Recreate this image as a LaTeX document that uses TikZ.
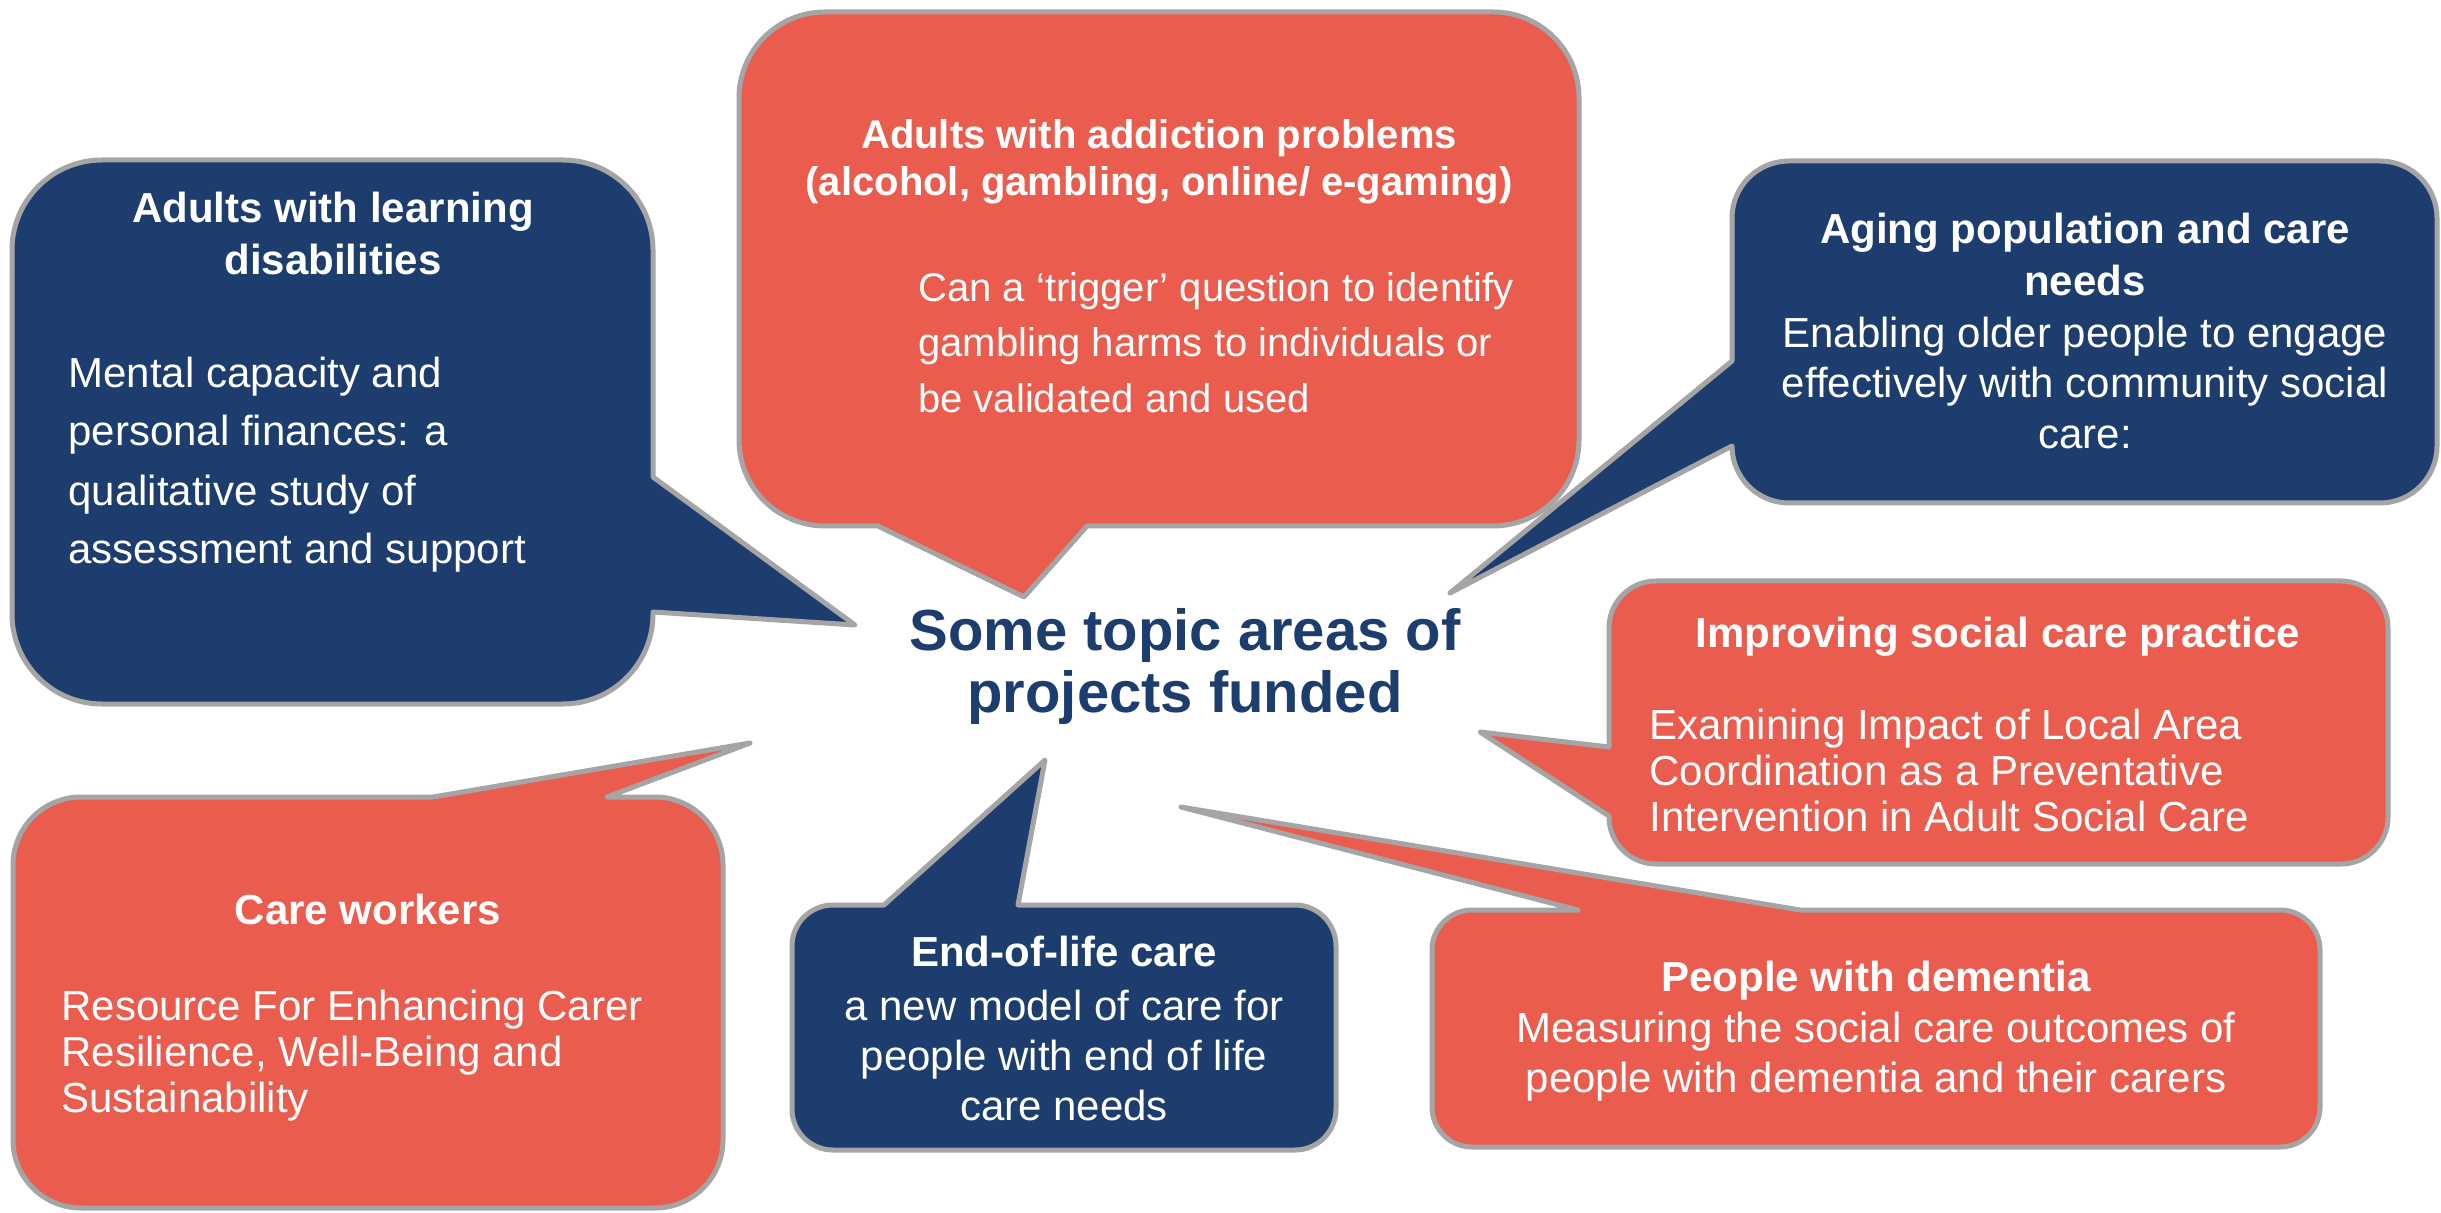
\documentclass[tikz,border=0pt]{standalone}
\usepackage{fontspec}
\setmainfont{Liberation Sans}
\definecolor{navy}{HTML}{1C3D6E}
\definecolor{coral}{HTML}{E95C4E}
\definecolor{rim}{HTML}{A5A5A5}
\tikzset{
  bubble/.style={draw=rim, line width=2.5pt, line join=round},
  bluebubble/.style={bubble, fill=navy},
  redbubble/.style={bubble, fill=coral},
  ttl/.style={font=\bfseries\fontsize{21}{25}\selectfont, text=white, inner sep=0pt, anchor=base},
  ttlc/.style={font=\bfseries\fontsize{20}{24}\selectfont, text=white, inner sep=0pt, anchor=base},
  bdyc/.style={font=\fontsize{21}{25}\selectfont, text=white, inner sep=0pt, anchor=base},
  bdyl/.style={font=\fontsize{21}{25}\selectfont, text=white, inner sep=0pt, anchor=base west},
  bdys/.style={font=\fontsize{20}{24}\selectfont, text=white, inner sep=0pt, anchor=base west},
  hub/.style={font=\bfseries\fontsize{29}{34}\selectfont, text=navy, inner sep=0pt, anchor=base}
}
\begin{document}
\begin{tikzpicture}[x=0.5pt,y=-0.5pt]
\useasboundingbox (0,0) rectangle (2441,1213);
\fill[white] (0,0) rectangle (2441,1213);

% Box 1: learning disabilities (blue), tail on right edge
\draw[bluebubble] (102,160) -- (563,160) arc[start angle=270,end angle=360,radius=90]
  -- (653,477) -- (855,625) -- (653,612) -- (653,614) arc[start angle=0,end angle=90,radius=90]
  -- (102,704) arc[start angle=90,end angle=180,radius=90]
  -- (12,250) arc[start angle=180,end angle=270,radius=90] -- cycle;

% Box 2: addiction (red), tail on bottom edge
\draw[redbubble] (825,12) -- (1493,12) arc[start angle=270,end angle=360,radius=86]
  -- (1579,440) arc[start angle=0,end angle=90,radius=86]
  -- (1087,526) -- (1024,597) -- (878,526)
  -- (825,526) arc[start angle=90,end angle=180,radius=86]
  -- (739,98) arc[start angle=180,end angle=270,radius=86] -- cycle;

% Box 3: aging population (blue), tail on left edge
\draw[bluebubble] (1789,161) -- (2380,161) arc[start angle=270,end angle=360,radius=57]
  -- (2437,446) arc[start angle=0,end angle=90,radius=57]
  -- (1789,503) arc[start angle=90,end angle=180,radius=57]
  -- (1732,446) -- (1450,593) -- (1732,361)
  -- (1732,218) arc[start angle=180,end angle=270,radius=57] -- cycle;

% Box 4: improving practice (red), tail on left edge
\draw[redbubble] (1656,581) -- (2341,581) arc[start angle=270,end angle=360,radius=47]
  -- (2388,817) arc[start angle=0,end angle=90,radius=47]
  -- (1656,864) arc[start angle=90,end angle=180,radius=47]
  -- (1609,816) -- (1480,732) -- (1609,747)
  -- (1609,628) arc[start angle=180,end angle=270,radius=47] -- cycle;

% Box 5: care workers (red), tail on top edge
\draw[redbubble] (81,797) -- (433,797) -- (750,743) -- (607,797)
  -- (655,797) arc[start angle=270,end angle=360,radius=68]
  -- (723,1140) arc[start angle=0,end angle=90,radius=68]
  -- (81,1208) arc[start angle=90,end angle=180,radius=68]
  -- (13,865) arc[start angle=180,end angle=270,radius=68] -- cycle;

% Box 6: end of life (blue), tail on top edge
\draw[bluebubble] (833,905) -- (884,905) -- (1045,760) -- (1018,905)
  -- (1295,905) arc[start angle=270,end angle=360,radius=41]
  -- (1336,1109) arc[start angle=0,end angle=90,radius=41]
  -- (833,1150) arc[start angle=90,end angle=180,radius=41]
  -- (792,946) arc[start angle=180,end angle=270,radius=41] -- cycle;

% Box 7: dementia (red), tail on top edge
\draw[redbubble] (1472,910) -- (1578,910) -- (1181,807) -- (1800,910)
  -- (2280,910) arc[start angle=270,end angle=360,radius=40]
  -- (2320,1107) arc[start angle=0,end angle=90,radius=40]
  -- (1472,1147) arc[start angle=90,end angle=180,radius=40]
  -- (1432,950) arc[start angle=180,end angle=270,radius=40] -- cycle;

% Centre
\node[hub] (hubA) at (1185,650) {Some topic areas of};
\node[hub] (hubB) at (1185,712) {projects funded};

% Box 1 text
\node[ttl] (l1) at (333,223) {Adults with learning};
\node[ttl] (l2) at (333,275) {disabilities};
\node[bdyl] (l3) at (68,388) {Mental capacity and};
\node[bdyl] (l4) at (68,446) {personal finances: a};
\node[bdyl] (l5) at (68,506) {qualitative study of};
\node[bdyl] (l6) at (68,564) {assessment and support};

% Box 2 text
\node[ttlc] (a1) at (1159,149) {Adults with addiction problems};
\node[ttlc] (a2) at (1159,196) {(alcohol, gambling, online/ e-gaming)};
\node[bdys] (a3) at (918,302) {Can a ‘trigger’ question to identify};
\node[bdys] (a4) at (918,357) {gambling harms to individuals or};
\node[bdys] (a5) at (918,413) {be validated and used};

% Box 3 text
\node[ttl] (g1) at (2085,244) {Aging population and care};
\node[ttl] (g2) at (2085,296) {needs};
\node[bdyc] (g3) at (2085,348) {Enabling older people to engage};
\node[bdyc] (g4) at (2085,398) {effectively with community social};
\node[bdyc] (g5) at (2085,449) {care:};

% Box 4 text
\node[ttl] (p1) at (1998,647) {Improving social care practice};
\node[bdyl] (p2) at (1649,739) {Examining Impact of Local Area};
\node[bdyl] (p3) at (1649,785) {Coordination as a Preventative};
\node[bdyl] (p4) at (1649,831) {Intervention in Adult Social Care};

% Box 5 text
\node[ttl] (c1) at (368,924) {Care workers};
\node[bdyl] (c2) at (61,1020) {Resource For Enhancing Carer};
\node[bdyl] (c3) at (61,1066) {Resilience, Well-Being and};
\node[bdyl] (c4) at (61,1112) {Sustainability};

% Box 6 text
\node[ttl] (e1) at (1064,966) {End-of-life care};
\node[bdyc] (e2) at (1064,1020) {a new model of care for};
\node[bdyc] (e3) at (1064,1070) {people with end of life};
\node[bdyc] (e4) at (1064,1120) {care needs};

% Box 7 text
\node[ttl] (d1) at (1876,991) {People with dementia};
\node[bdyc] (d2) at (1876,1042) {Measuring the social care outcomes of};
\node[bdyc] (d3) at (1876,1092) {people with dementia and their carers};
\end{tikzpicture}
\end{document}
